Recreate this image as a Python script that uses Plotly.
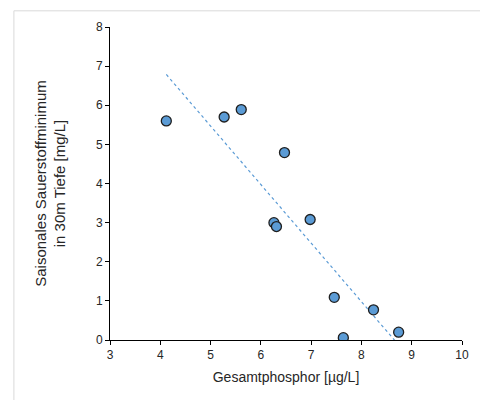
import numpy as np
import plotly.graph_objects as go

phosphor = [4.12, 5.27, 5.61, 6.47, 6.26, 6.31, 6.98, 7.46, 8.24, 8.74, 7.64]
oxygen = [5.60, 5.70, 5.89, 4.79, 3.00, 2.90, 3.08, 1.09, 0.77, 0.20, 0.06]
x_ticks = [3, 4, 5, 6, 7, 8, 9, 10]
y_ticks = [0, 1, 2, 3, 4, 5, 6, 7, 8]

slope, intercept = np.polyfit(phosphor, oxygen, 1)
tx = np.array([min(phosphor), max(phosphor)])
ty = slope * tx + intercept

fig = go.Figure()
fig.add_trace(go.Scatter(x=tx, y=ty, mode="lines",
                         line=dict(color="#5b9bd5", width=1.2, dash="dot"),
                         hoverinfo="skip", showlegend=False))
fig.add_trace(go.Scatter(x=phosphor, y=oxygen, mode="markers",
                         marker=dict(size=10, color="#5b9bd5",
                                     line=dict(color="#1f1f1f", width=1.3)),
                         showlegend=False, cliponaxis=True))

fnt = dict(family="Liberation Sans, Arial, sans-serif", color="#262626")
fig.update_layout(
    width=488, height=400,
    margin=dict(l=102, r=34, t=19, b=68),
    paper_bgcolor="white", plot_bgcolor="white",
    font=dict(size=12, **fnt),
    shapes=[dict(type="rect", xref="paper", yref="paper",
                 x0=-0.273, x1=1.0615, y0=-0.3, y1=1.0517,
                 line=dict(color="#d9d9d9", width=1), layer="below")],
)
fig.update_xaxes(range=[3, 10], tickvals=x_ticks, showgrid=False, zeroline=False,
                 showline=True, linecolor="black", linewidth=1,
                 ticks="outside", ticklen=4, tickcolor="black",
                 title=dict(text="Gesamtphosphor [µg/L]", font=dict(size=14, **fnt), standoff=10))
fig.update_yaxes(range=[0, 8], tickvals=y_ticks, showgrid=False, zeroline=False,
                 showline=True, linecolor="black", linewidth=1,
                 ticks="outside", ticklen=4, tickcolor="black",
                 title=dict(text="Saisonales Sauerstoffminimum<br>in 30m Tiefe [mg/L]",
                            font=dict(size=15, **fnt), standoff=26))
fig.write_html("out.html")
